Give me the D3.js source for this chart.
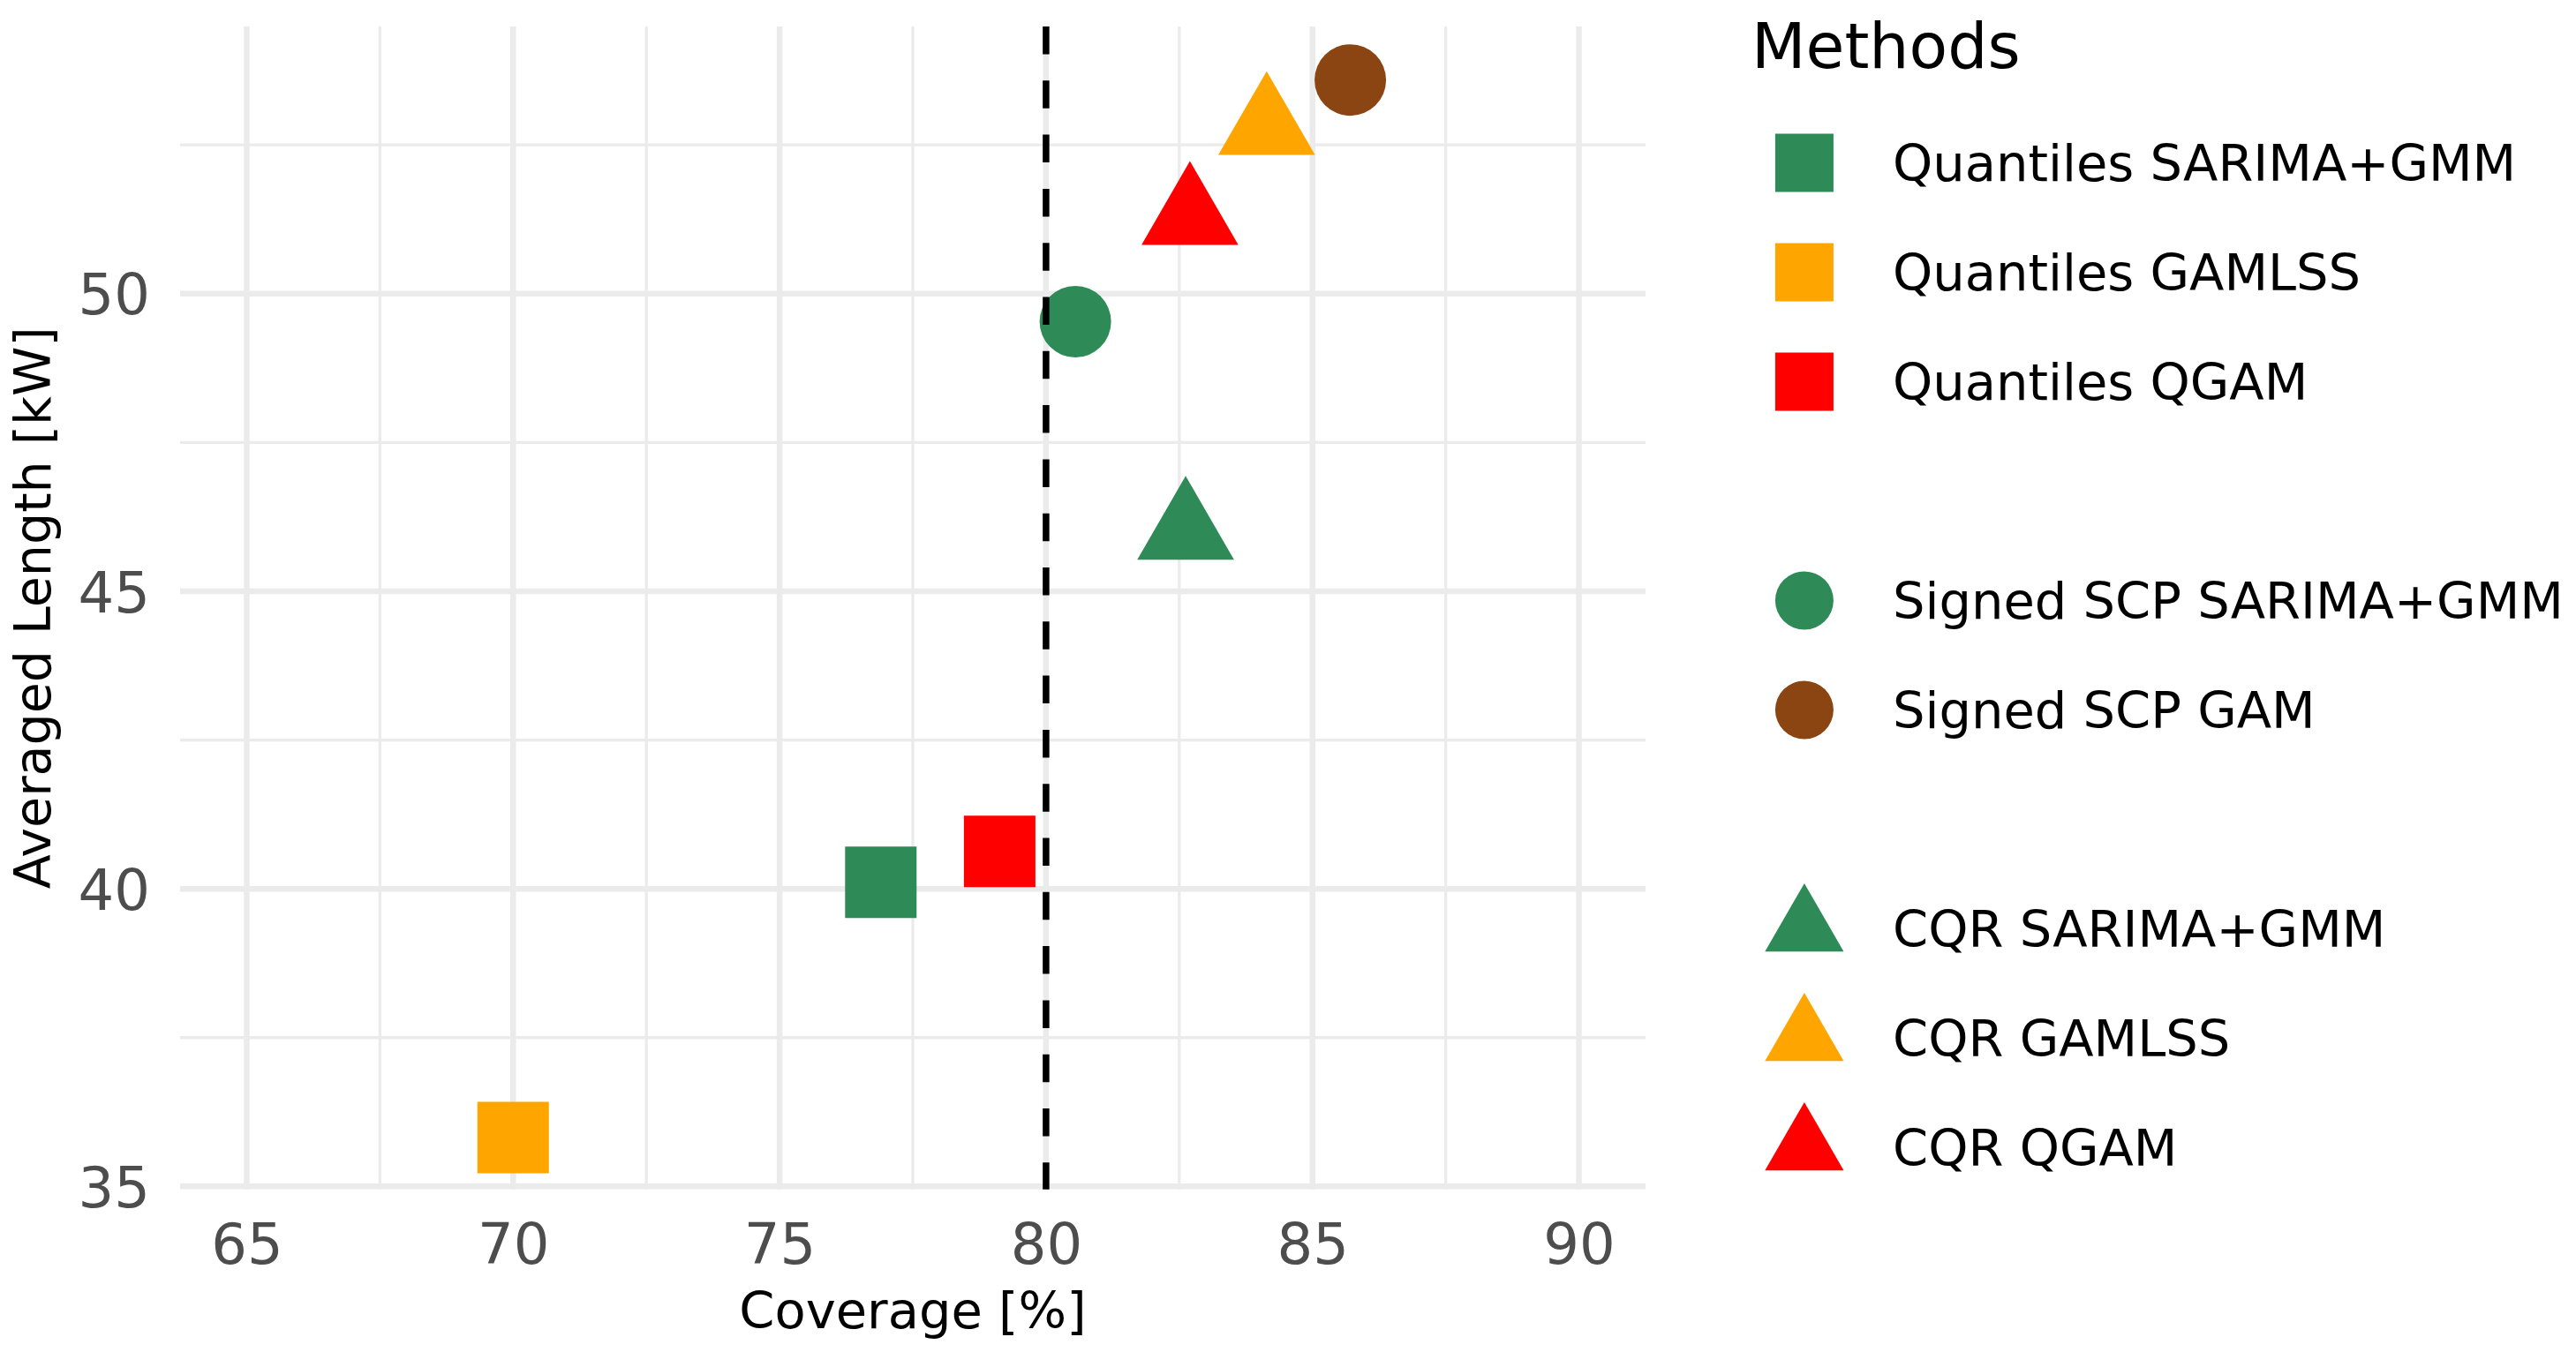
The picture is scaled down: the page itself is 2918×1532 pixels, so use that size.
<!DOCTYPE html>
<html>
<head>
<meta charset="utf-8">
<script src="https://cdn.jsdelivr.net/npm/d3@7"></script>
<style>
  body { margin: 0; background: #fff; }
  text { font-family: "DejaVu Sans", sans-serif; }
</style>
</head>
<body>
<div class="chart"></div>
<script>
// data
const methods = ["Quantiles SARIMA+GMM", "Quantiles GAMLSS", "Quantiles QGAM",
                 "Signed SCP SARIMA+GMM", "Signed SCP GAM",
                 "CQR SARIMA+GMM", "CQR GAMLSS", "CQR QGAM"];
const coverage = [76.90, 70.00, 79.13, 80.55, 85.71, 82.62, 84.14, 82.70];
const avgLength = [40.11, 35.82, 40.63, 49.53, 53.59, 46.00, 52.80, 51.29];
const shapes = ["square", "square", "square", "circle", "circle", "triangle", "triangle", "triangle"];
const colors = ["#2E8B57", "#FFA500", "#FF0000", "#2E8B57", "#8B4513", "#2E8B57", "#FFA500", "#FF0000"];
const legendSlot = [0, 1, 2, 4, 5, 7, 8, 9]; // blank rows between groups
const xTicks = [65, 70, 75, 80, 85, 90];
const xMinor = [67.5, 72.5, 77.5, 82.5, 87.5];
const yTicks = [35, 40, 45, 50];
const yMinor = [37.5, 42.5, 47.5, 52.5];
const target = 80;

const W = 2918, H = 1532;
const panel = { left: 204, right: 1864, top: 30, bottom: 1347.7 };

const svg = d3.select(".chart").append("svg")
    .attr("width", W).attr("height", H)
    .style("background", "#fff");

const x = d3.scaleLinear().domain([63.75, 91.25]).range([panel.left, panel.right]);
const y = d3.scaleLinear().domain([34.95, 54.49]).range([panel.bottom, panel.top]);

const symType = { square: d3.symbolSquare, circle: d3.symbolCircle, triangle: d3.symbolTriangle };
const plotSize = { square: 6561, circle: 5153, triangle: 5205 };
const keySize = { square: 4356, circle: 3421, triangle: 3445 };

// grid
const grid = svg.append("g");
grid.selectAll(".vminor").data(xMinor).enter().append("line")
    .attr("x1", d => x(d)).attr("x2", d => x(d))
    .attr("y1", panel.top).attr("y2", panel.bottom)
    .attr("stroke", "#ebebeb").attr("stroke-width", 3.3);
grid.selectAll(".hminor").data(yMinor).enter().append("line")
    .attr("x1", panel.left).attr("x2", panel.right)
    .attr("y1", d => y(d)).attr("y2", d => y(d))
    .attr("stroke", "#ebebeb").attr("stroke-width", 3.3);
grid.selectAll(".vmajor").data(xTicks).enter().append("line")
    .attr("x1", d => x(d)).attr("x2", d => x(d))
    .attr("y1", panel.top).attr("y2", panel.bottom)
    .attr("stroke", "#ebebeb").attr("stroke-width", 6.5);
grid.selectAll(".hmajor").data(yTicks).enter().append("line")
    .attr("x1", panel.left).attr("x2", panel.right)
    .attr("y1", d => y(d)).attr("y2", d => y(d))
    .attr("stroke", "#ebebeb").attr("stroke-width", 6.5);

// axes (ticks as text only)
const xAxis = svg.append("g")
    .attr("transform", `translate(0,${panel.bottom})`)
    .call(d3.axisBottom(x).tickValues(xTicks).tickSize(0).tickPadding(0));
xAxis.select(".domain").remove();
xAxis.selectAll("text")
    .attr("y", 84).attr("dy", 0)
    .style("font-family", "DejaVu Sans").style("font-size", "64px").attr("fill", "#4d4d4d");

const yAxis = svg.append("g")
    .attr("transform", `translate(${panel.left},0)`)
    .call(d3.axisLeft(y).tickValues(yTicks).tickSize(0).tickPadding(0));
yAxis.select(".domain").remove();
yAxis.selectAll("text")
    .attr("x", -34).attr("dy", "0.36em")
    .style("font-family", "DejaVu Sans").style("font-size", "64px").attr("fill", "#4d4d4d");

// points
const pts = methods.map((m, i) => ({ m, cov: coverage[i], len: avgLength[i], shape: shapes[i], color: colors[i], slot: legendSlot[i] }));

svg.selectAll(".pt").data(pts).enter().append("path")
    .attr("class", "pt")
    .attr("transform", d => `translate(${x(d.cov)},${y(d.len)})`)
    .attr("d", d => d3.symbol(symType[d.shape], plotSize[d.shape])())
    .attr("fill", d => d.color);

// target coverage
svg.append("line")
    .attr("x1", x(target)).attr("x2", x(target))
    .attr("y1", panel.top).attr("y2", panel.bottom)
    .attr("stroke", "#000").attr("stroke-width", 7.5)
    .attr("stroke-dasharray", "31.5,29.8");

// axis titles
svg.append("text")
    .attr("x", (panel.left + panel.right) / 2).attr("y", 1505)
    .attr("text-anchor", "middle")
    .style("font-size", "57.5px").text("Coverage [%]");
svg.append("text")
    .attr("transform", `translate(57,${(panel.top + panel.bottom) / 2}) rotate(-90)`)
    .attr("text-anchor", "middle")
    .style("font-size", "57px").text("Averaged Length [kW]");

// legend
const legend = svg.append("g");
legend.append("text")
    .attr("x", 1984).attr("y", 77)
    .style("font-size", "71.3px").text("Methods");

const rowY = s => 184.4 + 124 * s;
legend.selectAll(".key").data(pts).enter().append("path")
    .attr("transform", d => `translate(2043.9,${rowY(d.slot)})`)
    .attr("d", d => d3.symbol(symType[d.shape], keySize[d.shape])())
    .attr("fill", d => d.color);
legend.selectAll(".lab").data(pts).enter().append("text")
    .attr("x", 2144).attr("y", d => rowY(d.slot))
    .attr("dy", "0.36em")
    .style("font-size", "57.5px").text(d => d.m);
</script>
</body>
</html>
